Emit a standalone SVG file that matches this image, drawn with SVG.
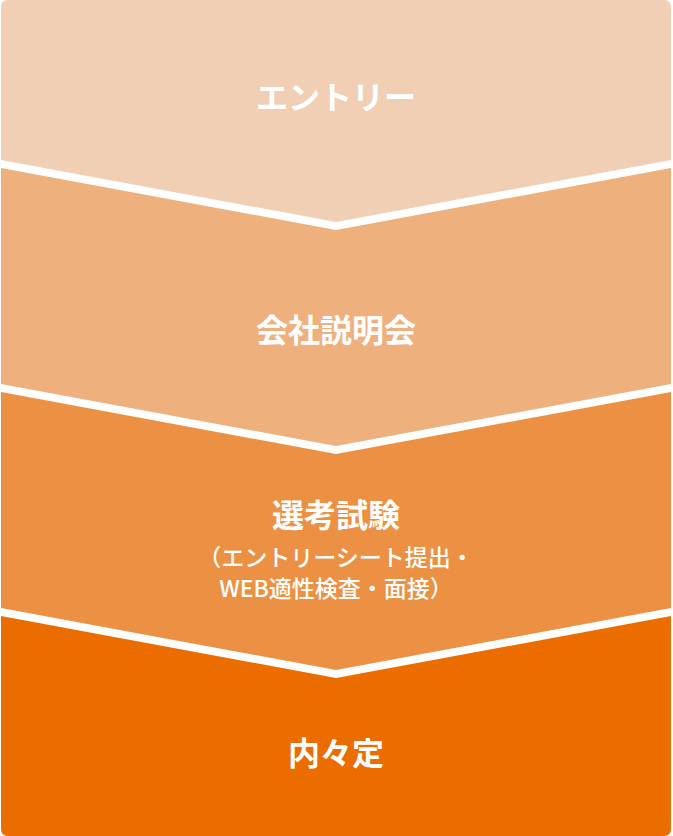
<svg xmlns="http://www.w3.org/2000/svg" width="673" height="836" viewBox="0 0 673 836">
<style>
.t{font-family:"Noto Sans CJK JP","Noto Sans",sans-serif;font-weight:bold;font-size:32px;fill:#fff;text-anchor:middle}
.s{font-family:"Noto Sans CJK JP","Noto Sans",sans-serif;font-weight:500;font-size:23px;fill:#fff;text-anchor:middle}
</style>
<rect width="673" height="836" fill="#fff"/>
<g id="step1">
<path d="M1,7 Q1,0 8,0 H664 Q671,0 671,7 V160 L336,222 L1,160 Z" fill="#F0CFB4"/>
<text class="t" x="336" y="109">エントリー</text>
</g>
<g id="step2">
<path d="M1,168 L336,230 L671,168 V384 L336,446 L1,384 Z" fill="#EEB07C"/>
<text class="t" x="336" y="342">会社説明会</text>
</g>
<g id="step3">
<path d="M1,392 L336,454 L671,392 V608 L336,670 L1,608 Z" fill="#EC9143"/>
<text class="t" x="336" y="527">選考試験</text>
<text class="s" x="336" y="566">（エントリーシート提出・</text>
<text class="s" x="336" y="597">WEB適性検査・面接）</text>
</g>
<g id="step4">
<path d="M1,616 L336,678 L671,616 V829 Q671,836 664,836 H8 Q1,836 1,829 Z" fill="#EB6D00"/>
<text class="t" x="336" y="765">内々定</text>
</g>
<g id="connectors"/>
</svg>
